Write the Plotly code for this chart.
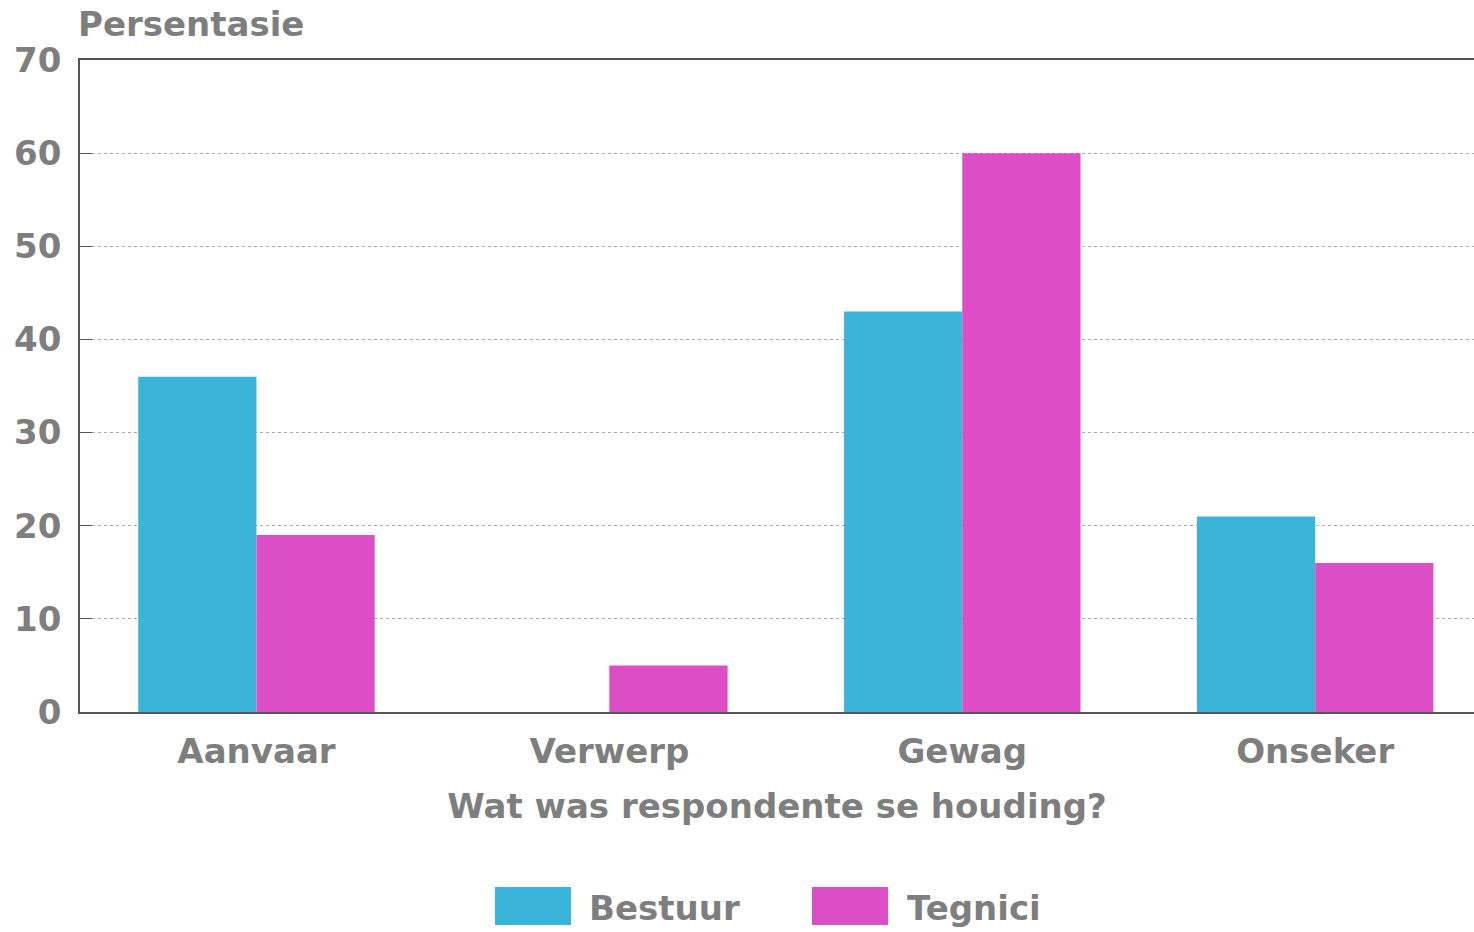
import plotly.graph_objects as go

# Survey results: attitude of respondents, by group (percent)
categories = ["Aanvaar", "Verwerp", "Gewag", "Onseker"]
series_names = ["Bestuur", "Tegnici"]
bestuur = [36, 0, 43, 21]
tegnici = [19, 5, 60, 16]
series_colors = ["#3ab4d9", "#db4ec6"]
y_ticks = [0, 10, 20, 30, 40, 50, 60, 70]

TEXT = "#7e7e7e"
FONT = "DejaVu Sans"
SIZE = 34


def tfont(size=SIZE):
    return dict(size=size, color=TEXT, family=FONT, weight="bold")


fig = go.Figure()
for name, vals, col in zip(series_names, [bestuur, tegnici], series_colors):
    fig.add_trace(go.Bar(
        x=categories, y=vals, name=name,
        marker=dict(color=col, line=dict(width=0)),
        showlegend=False,
    ))

fig.update_layout(
    width=1474, height=932,
    margin=dict(l=80, r=0, t=60, b=220),
    paper_bgcolor="white", plot_bgcolor="white",
    barmode="group", bargap=0.33, bargroupgap=0,
    font=tfont(),
)

fig.update_xaxes(
    range=[-0.5, 3.45],
    showline=True, linecolor="#555", linewidth=1.5, mirror=True,
    ticks="", showgrid=False,
    tickfont=tfont(),
    ticklabelstandoff=8,
    title=dict(text="Wat was respondente se houding?", font=tfont(), standoff=25),
)
fig.update_yaxes(
    range=[0, 70], tickvals=y_ticks,
    showline=True, linecolor="#555", linewidth=1.5,
    ticks="inside", ticklen=12, tickcolor="#555",
    showgrid=True, gridcolor="#a8a8a8", griddash="dot", gridwidth=1,
    zeroline=False,
    tickfont=tfont(),
    ticklabelstandoff=10,
)

# y-axis caption above the plot
fig.add_annotation(
    text="Persentasie", xref="paper", yref="paper", x=0, y=1.0,
    xanchor="left", yanchor="bottom", yshift=14, xshift=-4, showarrow=False,
    font=tfont(),
)

# legend below the chart: large colour swatches with labels
legend_x = [(0.2977, 0.3522, 0.3637), (0.5251, 0.5796, 0.5918)]
for (x0, x1, xt), name, col in zip(legend_x, series_names, series_colors):
    fig.add_shape(type="rect", xref="paper", yref="paper",
                  x0=x0, x1=x1, y0=-0.3267, y1=-0.2684,
                  fillcolor=col, line=dict(width=0))
    fig.add_annotation(text=name, xref="paper", yref="paper",
                       x=xt, y=-0.3, xanchor="left", yanchor="middle",
                       showarrow=False, font=tfont())

fig.write_html("out.html")
